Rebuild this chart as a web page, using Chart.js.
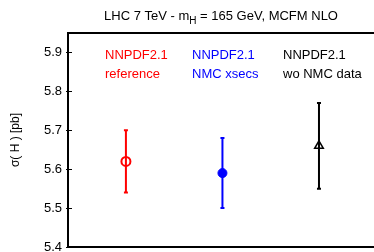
<!DOCTYPE html>
<html>
<head>
<meta charset="utf-8">
<script src="https://cdn.jsdelivr.net/npm/chart.js@4/dist/chart.umd.min.js"></script>
<style>
  html, body { margin: 0; padding: 0; background: #fff; }
  #wrap { width: 374px; height: 252px; }
</style>
</head>
<body>
<div id="wrap"><canvas id="xsec"></canvas></div>
<script>
// sigma(H) for three NNPDF2.1 fits

const fits = ["reference", "NMC xsecs", "wo NMC data"];
const labelTop = ["NNPDF2.1", "NNPDF2.1", "NNPDF2.1"];
const positions = [1, 2, 3];
const central = [5.62, 5.59, 5.66];
const errLow = [5.54, 5.50, 5.55];
const errHigh = [5.70, 5.68, 5.77];
const colors = ["#ff0000", "#0000ff", "#000000"];
const yTicks = [5.4, 5.5, 5.6, 5.7, 5.8, 5.9];

const font = "'Liberation Sans', Arial, sans-serif";

const decor = {
  id: "decor",
  beforeDatasetsDraw(chart) {
    const c = chart.ctx;
    const xs = chart.scales.x, ys = chart.scales.y;
    // error bars
    positions.forEach((p, i) => {
      const x = xs.getPixelForValue(p);
      const y1 = ys.getPixelForValue(errLow[i]);
      const y2 = ys.getPixelForValue(errHigh[i]);
      c.save();
      c.strokeStyle = colors[i];
      c.lineWidth = 2;
      c.beginPath();
      c.moveTo(x, y1); c.lineTo(x, y2);
      c.moveTo(x - 2, y1); c.lineTo(x + 2, y1);
      c.moveTo(x - 2, y2); c.lineTo(x + 2, y2);
      c.stroke();
      c.restore();
    });
  },
  afterDraw(chart) {
    const c = chart.ctx;
    const a = chart.chartArea;
    const ys = chart.scales.y;
    c.save();
    // top frame line
    c.strokeStyle = "#000";
    c.lineWidth = 2;
    c.beginPath();
    c.moveTo(a.left, a.top); c.lineTo(a.right, a.top);
    c.stroke();
    // inward ticks
    c.lineWidth = 1;
    c.beginPath();
    yTicks.forEach(v => {
      const y = Math.round(ys.getPixelForValue(v)) + 0.5;
      c.moveTo(a.left - 2, y); c.lineTo(a.left + 4, y);
    });
    c.stroke();

    // legend-like labels
    const lx = [105, 192, 283];
    c.font = "13px " + font;
    c.textBaseline = "alphabetic";
    c.textAlign = "left";
    fits.forEach((f, i) => {
      c.fillStyle = colors[i];
      c.fillText(labelTop[i], lx[i], 59);
      c.fillText(f, lx[i], 78);
    });

    // title with subscript
    c.fillStyle = "#000";
    const parts = [["LHC 7 TeV - m", 13, 0], ["H", 10, 4], [" = 165 GeV, MCFM NLO", 13, 0]];
    let total = 0;
    parts.forEach(p => { c.font = p[1] + "px " + font; total += c.measureText(p[0]).width; });
    let x = (a.left + a.right) / 2 - total / 2;
    parts.forEach(p => {
      c.font = p[1] + "px " + font;
      c.fillText(p[0], x, 20 + p[2]);
      x += c.measureText(p[0]).width;
    });
    c.restore();
  }
};

const markers = [
  { pointStyle: "circle", radius: 4.5, fill: "rgba(0,0,0,0)", border: 2 },
  { pointStyle: "circle", radius: 4.5, fill: colors[1], border: 1 },
  { pointStyle: "triangle", radius: 5, fill: "rgba(0,0,0,0)", border: 1.5 }
];

const datasets = fits.map((f, i) => ({
  label: f,
  data: [{ x: positions[i], y: central[i] }],
  pointStyle: markers[i].pointStyle,
  pointRadius: markers[i].radius,
  pointBackgroundColor: markers[i].fill,
  pointBorderColor: colors[i],
  pointBorderWidth: markers[i].border,
  showLine: false
}));

new Chart(document.getElementById("xsec"), {
  type: "scatter",
  data: { datasets: datasets },
  options: {
    responsive: true,
    maintainAspectRatio: false,
    animation: false,
    layout: { autoPadding: false, padding: { top: 33, right: 0, left: 0, bottom: 0 } },
    plugins: { legend: { display: false }, tooltip: { enabled: false } },
    scales: {
      x: {
        min: 0.4,
        max: 3.57,
        ticks: { display: false },
        grid: { display: false, drawTicks: false },
        border: { display: true, color: "#000", width: 2 },
        afterFit(s) { s.height = 5; s.paddingLeft = 0; s.paddingRight = 0; }
      },
      y: {
        min: 5.4,
        max: 5.95,
        afterBuildTicks(s) { s.ticks = yTicks.map(v => ({ value: v })); },
        ticks: {
          color: "#000",
          padding: 6,
          font: { family: font, size: 13 },
          callback: v => v.toFixed(1)
        },
        grid: { display: false, drawTicks: false },
        border: { display: true, color: "#000", width: 2 },
        title: {
          display: true,
          text: "σ( H ) [pb]",
          color: "#000",
          font: { family: font, size: 12 },
          padding: { top: 8, bottom: 0 }
        },
        afterFit(s) {
          s.width = 68;
          s.paddingTop = 0;
          s.paddingBottom = 0;
        }
      }
    }
  },
  plugins: [decor]
});
</script>
</body>
</html>
